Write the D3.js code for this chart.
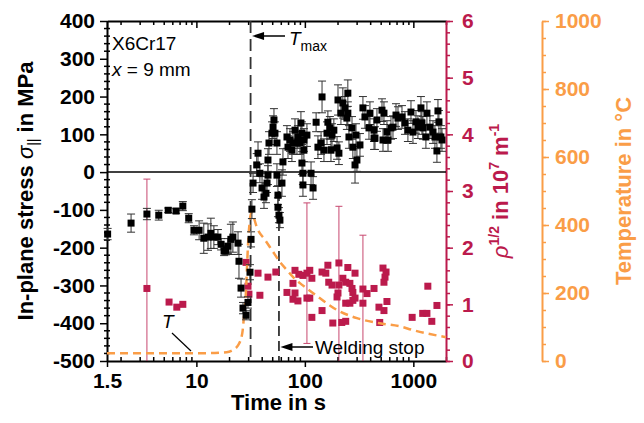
<!DOCTYPE html>
<html>
<head>
<meta charset="utf-8">
<script src="https://cdn.jsdelivr.net/npm/d3@7"></script>
<style>
  body { margin: 0; background: #fff; }
  svg text { font-family: "Liberation Sans", Arial, sans-serif; }
</style>
</head>
<body>
<div id="chart"></div>
<script>
// ---- in-plane stress (black squares, MPa) ----
const stressTime = [
  1.52, 2.5, 3.5, 4.5, 5.5, 6.5, 7.5, 8.5, 9.5, 10.6,
  11.7, 12.8, 13.6, 14.5, 15.8, 16.9, 18.0, 18.7, 19.5, 20.8,
  21.7, 24.2, 24.7, 25.8, 26.9, 28.7, 29.9, 31.2, 31.9, 32.5,
  33.3, 36, 37, 38.5, 40.3, 42, 43.8, 44.8, 45.7, 45.7,
  46.7, 49.8, 50.9, 51.9, 53, 55.3, 55.3, 56.5, 56.5, 57.7,
  58.9, 61.5, 62.8, 68.4, 69.9, 72.9, 76, 77.7, 81.1, 84.6,
  86.3, 90.1, 92, 94, 94, 96, 96, 98, 98, 104.5,
  114, 119, 127, 132, 141, 144, 150, 160, 163, 170,
  174, 178, 185, 198, 202, 206, 215, 224, 234, 244,
  249, 249, 255, 272, 277, 290, 296, 302, 322, 343,
  358, 390, 398, 434, 434, 443, 462, 514, 525, 536,
  571, 584, 622, 649, 692, 722, 786, 837, 891, 951,
  992, 1057, 1102, 1175, 1200, 1225, 1306, 1334, 1422, 1518,
  1581, 1650, 1686, 1722, 1796, 1836
];
const stressVal = [
  -164, -135, -111, -114, -101, -103, -90, -122, -154, -154,
  -175, -172, -162, -172, -172, -191, -209, -207, -196, -178,
  -172, -188, -236, -307, -360, -379, -345, -265, -178, -98,
  -29, 19, 50, -3, -42, -66, -56, -29, -8, 32,
  77, 103, 119, 138, 103, 77, -8, -61, -93, -114,
  -127, -29, 27, 93, 66, 85, 58, 77, 111, 77,
  93, 77, 130, 103, 24, -3, -34, 85, 58, 98,
  -3, -42, 132, 66, 77, 199, 58, 103, 132, 117,
  58, 98, 111, 64, 191, 50, 156, 183, 170, 143,
  209, 156, 93, 117, 66, 19, 98, 32, 72, 170,
  146, 117, 156, 90, 111, 90, 138, 164, 85, 156,
  106, 85, 117, 119, 151, 143, 146, 130, 111, 159,
  106, 133, 119, 170, 130, 117, 93, 156, 119, 106,
  93, 56, 162, 133, 93, 85
];
const stressErr = [
  15, 24, 15, 13, 6, 6, 12, 12, 12, 25,
  40, 35, 40, 30, 20, 15, 12, 12, 20, 40,
  40, 30, 45, 24, 15, 12, 15, 20, 20, 25,
  25, 30, 30, 25, 30, 30, 25, 25, 25, 30,
  30, 30, 30, 30, 30, 30, 30, 25, 25, 20,
  20, 35, 35, 30, 30, 30, 30, 30, 30, 30,
  30, 30, 30, 30, 30, 30, 30, 30, 30, 30,
  30, 30, 25, 30, 30, 42, 30, 30, 30, 30,
  30, 30, 30, 30, 40, 30, 30, 40, 30, 30,
  35, 30, 30, 30, 30, 48, 30, 30, 30, 30,
  30, 30, 30, 30, 30, 30, 30, 30, 30, 30,
  30, 30, 30, 30, 30, 30, 30, 30, 30, 30,
  30, 30, 30, 30, 30, 30, 30, 30, 30, 30,
  30, 30, 30, 30, 30, 30
];

// ---- dislocation density rho^1/2 (red squares, 10^7 m^-1) ----
const rhoTime = [
  3.5, 5.6, 6.6, 7.5, 28.7, 29.9, 30.5, 37, 38.5, 45.7,
  54, 68.4, 77.7, 77.7, 81.1, 81.1, 86.3, 88, 96, 104.5,
  104.5, 111, 111, 116, 116, 144, 144, 156, 163, 166,
  178, 181, 198, 202, 206, 206, 219, 224, 238, 238,
  238, 249, 260, 260, 272, 277, 277, 290, 290, 343,
  343, 374, 434, 482, 490, 525, 536, 548, 560, 536,
  571, 975, 1220, 1334, 1360, 1480, 1650
];
const rhoVal = [
  1.28, 1.04, 0.95, 1.00, 1.74, 1.32, 1.18, 1.55, 1.16, 1.48,
  1.57, 1.21, 1.37, 1.09, 1.60, 1.20, 1.06, 1.53, 1.51, 1.55,
  1.11, 1.60, 1.11, 1.46, 0.77, 1.57, 0.89, 1.55, 1.69, 1.39,
  1.34, 0.67, 1.13, 1.20, 1.73, 1.34, 0.68, 1.46, 1.39, 1.02,
  0.70, 1.65, 1.37, 1.02, 1.28, 1.21, 1.07, 1.55, 1.11, 1.27,
  1.02, 1.19, 1.28, 0.95, 0.68, 1.64, 1.39, 1.48, 1.57, 0.89,
  1.05, 0.77, 0.84, 0.84, 1.32, 0.70, 0.98
];
// only a few red points carry an error bar
const rhoBarTime = [3.5, 104.5, 206, 343];
const rhoBarVal = [1.28, 1.55, 1.34, 1.02];
const rhoBarErr = [1.93, 1.24, 1.39, 1.2];

// ---- temperature (orange dashed curve, °C) ----
const tempTime = [1.5, 12, 19, 21, 24.2, 26.5, 27.6, 28.7, 29.3, 29.9, 30.8, 32, 33.5, 36,
  43, 49.5, 59, 68, 78, 90, 104, 137, 198, 302, 490, 750, 990, 2000];
const tempVal = [23, 23, 26, 30, 46, 82, 140, 208, 277, 340, 400, 435, 425, 394,
  356, 327, 291, 268, 247, 229, 214, 185, 150, 126, 111, 102, 91, 70];

// ---- events and ticks ----
const tMaxTime = 31.6;
const weldStopTime = 57.7;
const xMajorTicks = [1.5, 10, 100, 1000];
const xMinorTicks = [2, 3, 4, 5, 6, 7, 8, 9, 20, 30, 40, 50, 60, 70, 80, 90,
  200, 300, 400, 500, 600, 700, 800, 900, 2000];
const stressTicks = d3.range(-500, 401, 100);
const rhoTicks = d3.range(0, 7, 1);
const tempTicks = d3.range(0, 1001, 200);

const width = 644, height = 423;
const plot = { left: 107, right: 446, top: 21, bottom: 361 };
const tempAxisX = 542;
const RED = '#bb1a4c';
const ORANGE = '#fa9d47';
const BOLD = { size: '21px', weight: 'bold' };

const svg = d3.select('#chart').append('svg')
  .attr('width', width)
  .attr('height', height)
  .style('background', '#fff');

const x = d3.scaleLog().domain([1.5, 2000]).range([plot.left, plot.right]);
const yS = d3.scaleLinear().domain([-500, 400]).range([plot.bottom, plot.top]);
const yR = d3.scaleLinear().domain([0, 6]).range([plot.bottom, plot.top]);
const yT = d3.scaleLinear().domain([0, 1000]).range([plot.bottom, plot.top]);

// common styling for axes
const styleAxis = (g, color, labels) => {
  g.select('.domain').attr('stroke', color).attr('stroke-width', 2);
  g.selectAll('.tick line').attr('stroke', color).attr('stroke-width', 1.5);
  g.selectAll('.tick text')
    .attr('fill', color)
    .style('font-size', BOLD.size)
    .style('font-weight', BOLD.weight);
  if (!labels) g.selectAll('.tick text').remove();
};
const minorAxis = (g) => {
  g.select('.domain').remove();
  g.selectAll('.tick text').remove();
};

// --- bottom axis
svg.append('g')
  .attr('transform', `translate(0,${plot.bottom})`)
  .call(d3.axisBottom(x).tickValues(xMinorTicks).tickSize(-4).tickSizeOuter(0))
  .call(minorAxis)
  .selectAll('line').attr('stroke', '#000').attr('stroke-width', 1.5);
svg.append('g')
  .attr('transform', `translate(0,${plot.bottom})`)
  .call(d3.axisBottom(x).tickValues(xMajorTicks).tickSize(6).tickPadding(6).tickSizeOuter(0)
    .tickFormat(d => (d === 1.5 ? '1.5' : String(d))))
  .call(g => styleAxis(g, '#000', true));

// --- top axis (no labels, ticks inward)
svg.append('g')
  .attr('transform', `translate(0,${plot.top})`)
  .call(d3.axisTop(x).tickValues(xMinorTicks).tickSize(-4).tickSizeOuter(0))
  .call(minorAxis)
  .selectAll('line').attr('stroke', '#000').attr('stroke-width', 1.5);
svg.append('g')
  .attr('transform', `translate(0,${plot.top})`)
  .call(d3.axisTop(x).tickValues(xMajorTicks).tickSize(-7).tickSizeOuter(0))
  .call(g => styleAxis(g, '#000', false));

// --- left stress axis
svg.append('g')
  .attr('transform', `translate(${plot.left},0)`)
  .selectAll('line')
  .data(d3.range(-500, 401, 20).filter(v => v % 100 !== 0))
  .enter()
  .append('line')
  .attr('x1', -3).attr('x2', 3)
  .attr('y1', d => yS(d)).attr('y2', d => yS(d))
  .attr('stroke', '#000').attr('stroke-width', 1.5);
svg.append('g')
  .attr('transform', `translate(${plot.left},0)`)
  .call(d3.axisLeft(yS).tickValues(stressTicks).tickSize(7).tickPadding(5).tickSizeOuter(0)
    .tickFormat(d => String(d)))
  .call(g => styleAxis(g, '#000', true));

// --- right rho axis (red)
svg.append('g')
  .attr('transform', `translate(${plot.right},0)`)
  .call(d3.axisRight(yR).tickValues(d3.range(0, 6.01, 0.2)).tickSize(4).tickSizeOuter(0))
  .call(minorAxis)
  .selectAll('line').attr('stroke', RED).attr('stroke-width', 1.5);
svg.append('g')
  .attr('transform', `translate(${plot.right},0)`)
  .call(d3.axisRight(yR).tickValues(rhoTicks).tickSize(7).tickPadding(9).tickSizeOuter(0)
    .tickFormat(d => String(d)))
  .call(g => styleAxis(g, RED, true));

// --- far right temperature axis (orange)
svg.append('g')
  .attr('transform', `translate(${tempAxisX},0)`)
  .call(d3.axisRight(yT).tickValues(d3.range(0, 1001, 50)).tickSize(4).tickSizeOuter(0))
  .call(minorAxis)
  .selectAll('line').attr('stroke', ORANGE).attr('stroke-width', 1.5);
svg.append('g')
  .attr('transform', `translate(${tempAxisX},0)`)
  .call(d3.axisRight(yT).tickValues(tempTicks).tickSize(7).tickPadding(6).tickSizeOuter(0)
    .tickFormat(d => String(d)))
  .call(g => styleAxis(g, ORANGE, true));

// zero stress line
svg.append('line')
  .attr('x1', plot.left).attr('x2', plot.right)
  .attr('y1', yS(0)).attr('y2', yS(0))
  .attr('stroke', '#000').attr('stroke-width', 1.5);

// dashed event lines
svg.append('line')
  .attr('x1', x(tMaxTime)).attr('x2', x(tMaxTime))
  .attr('y1', plot.top).attr('y2', plot.bottom)
  .attr('stroke', '#333').attr('stroke-width', 1.8)
  .attr('stroke-dasharray', '12,6');
svg.append('line')
  .attr('x1', x(weldStopTime)).attr('x2', x(weldStopTime))
  .attr('y1', yS(-10)).attr('y2', plot.bottom)
  .attr('stroke', '#333').attr('stroke-width', 1.8)
  .attr('stroke-dasharray', '10,5');

const marks = svg.append('g');

// red error bars
const rhoBars = rhoBarTime.map((t, i) => ({ t, v: rhoBarVal[i], e: rhoBarErr[i] }));
const redBar = marks.append('g').attr('stroke', RED).attr('stroke-width', 1).attr('opacity', 0.8);
rhoBars.forEach(d => {
  const top = yR(d.v + d.e);
  const low = Math.min(yR(Math.max(d.v - d.e, 0)), plot.bottom);
  redBar.append('line').attr('x1', x(d.t)).attr('x2', x(d.t)).attr('y1', top).attr('y2', low);
  redBar.append('line').attr('x1', x(d.t) - 3.5).attr('x2', x(d.t) + 3.5).attr('y1', top).attr('y2', top);
  if (d.v - d.e > 0) {
    redBar.append('line').attr('x1', x(d.t) - 3.5).attr('x2', x(d.t) + 3.5).attr('y1', low).attr('y2', low);
  }
});

// red squares
marks.append('g')
  .selectAll('rect')
  .data(rhoTime.map((t, i) => ({ t, v: rhoVal[i] })))
  .enter()
  .append('rect')
  .attr('x', d => x(d.t) - 3.5)
  .attr('y', d => yR(d.v) - 3.5)
  .attr('width', 7).attr('height', 7)
  .attr('fill', RED);

// temperature curve
const tempLine = d3.line()
  .x(d => x(d.t))
  .y(d => yT(d.v))
  .curve(d3.curveMonotoneX);
marks.append('path')
  .datum(tempTime.map((t, i) => ({ t, v: tempVal[i] })))
  .attr('d', tempLine)
  .attr('fill', 'none')
  .attr('stroke', ORANGE)
  .attr('stroke-width', 2.5)
  .attr('stroke-dasharray', '8,5');

// stress error bars + squares
const stressData = stressTime.map((t, i) => ({ t, v: stressVal[i], e: stressErr[i] }));
const errG = marks.append('g').attr('stroke', '#333').attr('stroke-width', 1);
stressData.forEach(d => {
  const cx = x(d.t), y1 = yS(d.v + d.e), y2 = yS(d.v - d.e);
  errG.append('line').attr('x1', cx).attr('x2', cx).attr('y1', y1).attr('y2', y2);
  errG.append('line').attr('x1', cx - 4).attr('x2', cx + 4).attr('y1', y1).attr('y2', y1);
  errG.append('line').attr('x1', cx - 4).attr('x2', cx + 4).attr('y1', y2).attr('y2', y2);
});
marks.append('g')
  .selectAll('rect')
  .data(stressData)
  .enter()
  .append('rect')
  .attr('x', d => x(d.t) - 3.5)
  .attr('y', d => yS(d.v) - 3.5)
  .attr('width', 7).attr('height', 7)
  .attr('fill', '#000');

// arrows for annotations
const arrow = (x1, x2, yy) => {
  svg.append('line')
    .attr('x1', x1 + 8).attr('x2', x2)
    .attr('y1', yy).attr('y2', yy)
    .attr('stroke', '#000').attr('stroke-width', 1.5);
  svg.append('path')
    .attr('d', `M${x1},${yy} L${x1 + 12},${yy - 4} L${x1 + 12},${yy + 4} Z`)
    .attr('fill', '#000');
};
arrow(x(tMaxTime) + 1.5, 285, 36);
arrow(x(weldStopTime) + 1.5, 313, 347);

// annotation texts
const note = (tx, ty, size) => svg.append('text')
  .attr('x', tx).attr('y', ty)
  .style('font-size', size)
  .attr('fill', '#000');

note(112, 50, '19px').text('X6Cr17');
note(112, 76, '19px').call(t => {
  t.append('tspan').style('font-style', 'italic').text('x');
  t.append('tspan').text(' = 9 mm');
});
note(289, 45, '19px').call(t => {
  t.append('tspan').style('font-style', 'italic').text('T');
  t.append('tspan').attr('dy', 6).style('font-size', '14px').text('max');
});
note(315, 354, '19px').text('Welding stop');
note(162, 328, '19px').style('font-style', 'italic').text('T');
svg.append('line')
  .attr('x1', 172).attr('y1', 333)
  .attr('x2', 191).attr('y2', 351)
  .attr('stroke', '#000').attr('stroke-width', 1.2);

// axis titles
const midY = (plot.top + plot.bottom) / 2;
svg.append('text')
  .attr('x', (plot.left + plot.right) / 2 + 2)
  .attr('y', 410)
  .attr('text-anchor', 'middle')
  .style('font-size', '22px').style('font-weight', 'bold')
  .text('Time in s');

svg.append('text')
  .attr('transform', `translate(33,${midY}) rotate(-90)`)
  .attr('text-anchor', 'middle')
  .style('font-size', '22px').style('font-weight', 'bold')
  .call(t => {
    t.append('tspan').text('In-plane stress ');
    t.append('tspan').style('font-style', 'italic').style('font-weight', 'normal').text('σ');
    t.append('tspan').attr('dy', 5).style('font-size', '14px').style('font-weight', 'normal').text('||');
    t.append('tspan').attr('dy', -5).text(' in MPa');
  });

svg.append('text')
  .attr('transform', `translate(508,${midY}) rotate(-90)`)
  .attr('text-anchor', 'middle')
  .attr('fill', RED)
  .style('font-size', '22px').style('font-weight', 'bold')
  .call(t => {
    t.append('tspan').style('font-style', 'italic').style('font-weight', 'normal').text('ρ');
    t.append('tspan').attr('dy', -9).style('font-size', '14px').text('1/2');
    t.append('tspan').attr('dy', 9).text(' in 10');
    t.append('tspan').attr('dy', -9).style('font-size', '14px').text('7');
    t.append('tspan').attr('dy', 9).text(' m');
    t.append('tspan').attr('dy', -9).style('font-size', '14px').text('-1');
  });

svg.append('text')
  .attr('transform', `translate(631,${midY}) rotate(-90)`)
  .attr('text-anchor', 'middle')
  .attr('fill', ORANGE)
  .style('font-size', '22px').style('font-weight', 'bold')
  .text('Temperature in °C');
</script>
</body>
</html>
